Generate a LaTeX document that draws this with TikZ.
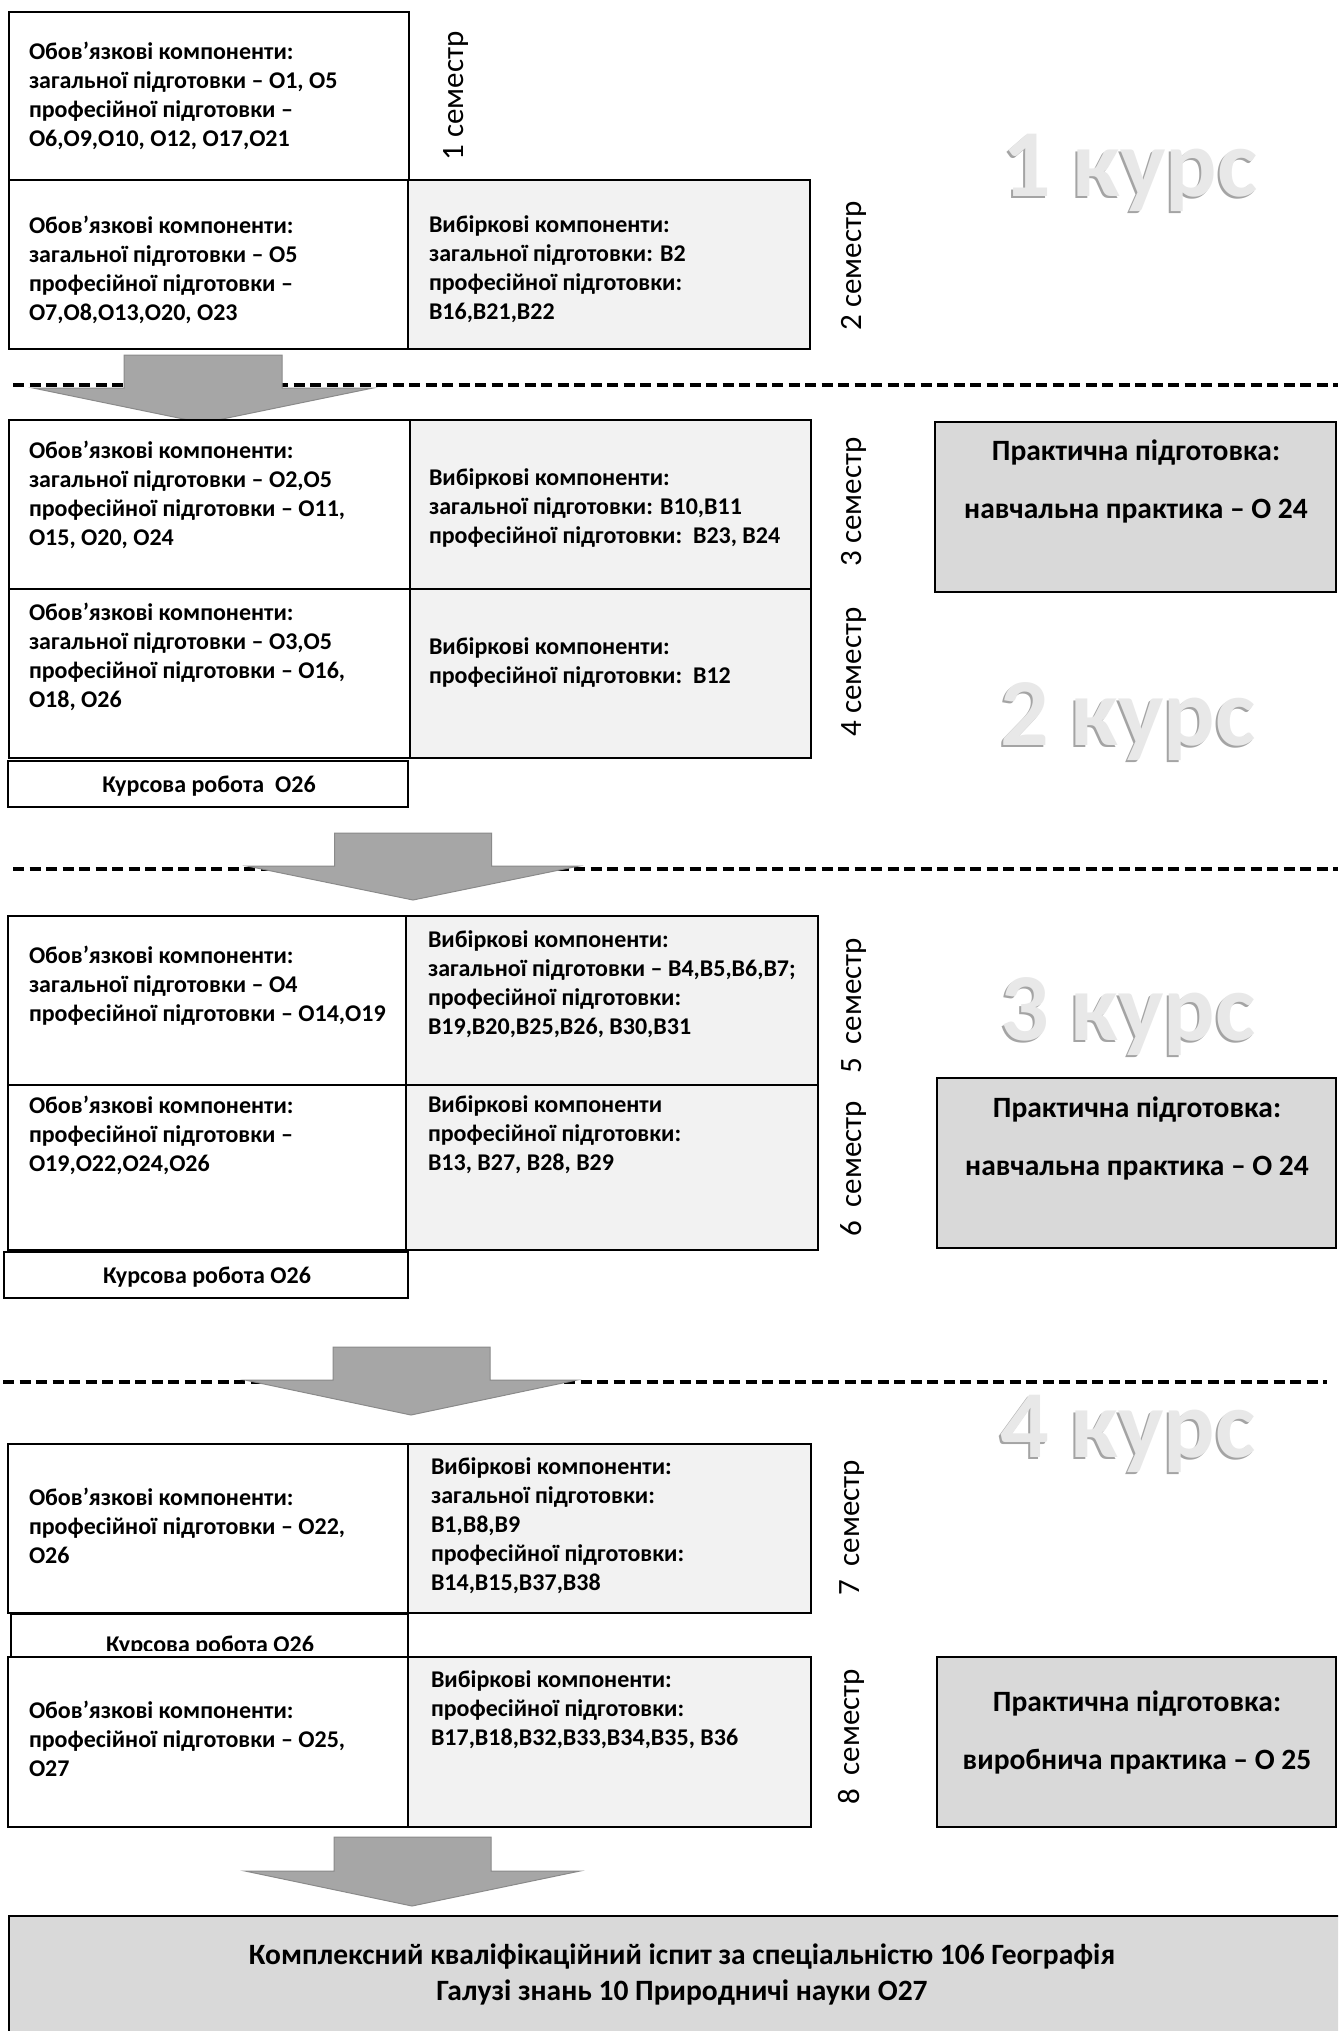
\documentclass[tikz,border=0pt]{standalone}
\usepackage{fontspec}
\setmainfont{Carlito}
\usetikzlibrary{fit}
\definecolor{optfill}{HTML}{F2F2F2}
\definecolor{pracfill}{HTML}{D9D9D9}
\definecolor{arrfill}{HTML}{A6A6A6}
\definecolor{arredge}{HTML}{8A8A8A}
\definecolor{kursfill}{HTML}{E8E8E8}
\definecolor{kursshade}{HTML}{A4A4A4}
\begin{document}
\begin{tikzpicture}[x=1pt,y=-1pt,
  bx/.style={draw=black,line width=1.5pt,inner sep=0pt,outer sep=0pt},
  oblbox/.style={bx,fill=white},
  vibbox/.style={bx,fill=optfill},
  pracbox/.style={bx,fill=pracfill},
  txt/.style={anchor=north west,inner sep=0pt,outer sep=0pt,align=left,yshift=20.3pt,
    font=\fontsize{24}{29}\selectfont\bfseries,execute at begin node=\strut},
  bigtxt/.style={anchor=north,inner sep=0pt,outer sep=0pt,align=center,yshift=25.2pt,
    font=\fontsize{29.5}{36}\selectfont\bfseries,execute at begin node=\strut},
  onel/.style={anchor=base,inner sep=0pt,font=\fontsize{24}{29}\selectfont\bfseries},
  sem/.style={anchor=base,rotate=90,inner sep=0pt,font=\fontsize{31}{31}\selectfont},
  kursshadow/.style={anchor=base,inner sep=0pt,font=\fontsize{96}{96}\selectfont\bfseries,text=kursshade},
  kurslabel/.style={anchor=base,inner sep=0pt,font=\fontsize{96}{96}\selectfont\bfseries,text=kursfill},
  sepline/.style={line width=3.5pt,dash pattern=on 11pt off 5.5pt},
  blockarrow/.style={fill=arrfill,draw=arredge,line width=1pt,line join=miter}
]
\fill[white] (0,0) rectangle (1338,2031);
\clip (0,0) rectangle (1338,2031);

% separators
\draw[sepline] (13,385) -- (1338,385);
\draw[sepline] (13,869) -- (1338,869);
\draw[sepline] (3,1382) -- (1327,1382);

% block arrows
\draw[blockarrow] (124,355) -- (282,355) -- (282,388) -- (373,388) -- (203,423) -- (33,388) -- (124,388) -- cycle;
\draw[blockarrow] (334.5,833) -- (491.5,833) -- (491.5,866) -- (579,866) -- (413,900) -- (247,866) -- (334.5,866) -- cycle;
\draw[blockarrow] (333,1347) -- (490,1347) -- (490,1380) -- (577,1380) -- (411,1415) -- (245,1380) -- (333,1380) -- cycle;
\draw[blockarrow] (334,1837) -- (491,1837) -- (491,1871) -- (580,1871) -- (412,1906) -- (245,1871) -- (334,1871) -- cycle;

% course labels
\node[kursshadow] (k1s) at (1128,198) {1 курс};
\node[kurslabel]  (k1)  at (1130,196) {1 курс};
\node[kursshadow] (k2s) at (1126,747) {2 курс};
\node[kurslabel]  (k2)  at (1128,745) {2 курс};
\node[kursshadow] (k3s) at (1126,1042) {3 курс};
\node[kurslabel]  (k3)  at (1128,1040) {3 курс};
\node[kursshadow] (k4s) at (1126,1459) {4 курс};
\node[kurslabel]  (k4)  at (1128,1457) {4 курс};

% ---------- 1 course ----------
\node[oblbox,fit={(9,12) (409,180)}] (o1box) {};
\node[oblbox,fit={(9,180) (408,349)}] (o2box) {};
\node[vibbox,fit={(408,180) (810,349)}] (v2box) {};
\node[txt] (o1) at (29,62) {Обов’язкові компоненти:\\загальної підготовки – О1, О5\\професійної підготовки –\\О6,О9,О10, О12, О17,О21};
\node[txt] (o2) at (29,236) {Обов’язкові компоненти:\\загальної підготовки – О5\\професійної підготовки –\\О7,О8,О13,О20, О23};
\node[txt] (v2) at (429,236) {Вибіркові компоненти:\\загальної підготовки: В2\\професійної підготовки:\\В16,В21,В22};
\node[sem] (s1) at (463,96) {1 семестр};
\node[sem] (s2) at (861,266) {2 семестр};

% ---------- 2 course ----------
\node[oblbox,fit={(9,420) (410,589)}] (o3box) {};
\node[oblbox,fit={(9,589) (410,758)}] (o4box) {};
\node[vibbox,fit={(410,420) (811,589)}] (v3box) {};
\node[vibbox,fit={(410,589) (811,758)}] (v4box) {};
\node[oblbox,fit={(8,761) (408,807)}] (kr1box) {};
\node[pracbox,fit={(935,422) (1336,592)}] (p1box) {};
\node[txt] (o3) at (29,461) {Обов’язкові компоненти:\\загальної підготовки – О2,О5\\професійної підготовки – О11,\\О15, О20, О24};
\node[txt] (v3) at (429,489) {Вибіркові компоненти:\\загальної підготовки: В10,В11\\професійної підготовки:\ \ В23, В24};
\node[txt] (o4) at (29,623) {Обов’язкові компоненти:\\загальної підготовки – О3,О5\\професійної підготовки – О16,\\О18, О26};
\node[txt] (v4) at (429,658) {Вибіркові компоненти:\\професійної підготовки:\ \ В12};
\node[onel] (kr1) at (209,792) {Курсова робота\ \ О26};
\node[bigtxt] (p1) at (1136,465) {Практична підготовка:\\[22pt]навчальна практика – О 24};
\node[sem] (s3) at (861,502) {3 семестр};
\node[sem] (s4) at (861,672) {4 семестр};

% ---------- 3 course ----------
\node[oblbox,fit={(8,916) (406,1085)}] (o5box) {};
\node[oblbox,fit={(8,1085) (406,1250)}] (o6box) {};
\node[vibbox,fit={(406,916) (818,1085)}] (v5box) {};
\node[vibbox,fit={(406,1085) (818,1250)}] (v6box) {};
\node[oblbox,fit={(4,1252) (408,1298)}] (kr2box) {};
\node[pracbox,fit={(937,1078) (1336,1248)}] (p2box) {};
\node[txt] (o5) at (29,966) {Обов’язкові компоненти:\\загальної підготовки – О4\\професійної підготовки – О14,О19};
\node[txt] (v5) at (428,951) {Вибіркові компоненти:\\загальної підготовки – В4,В5,В6,В7;\\професійної підготовки:\\В19,В20,В25,В26, В30,В31};
\node[txt] (o6) at (29,1116) {Обов’язкові компоненти:\\професійної підготовки –\\О19,О22,О24,О26};
\node[txt] (v6) at (428,1116) {Вибіркові компоненти\\професійної підготовки:\\В13, В27, В28, В29};
\node[onel] (kr2) at (207,1283) {Курсова робота О26};
\node[bigtxt] (p2) at (1137,1122) {Практична підготовка:\\[22pt]навчальна практика – О 24};
\node[sem] (s5) at (861,1006) {5\ \ семестр};
\node[sem] (s6) at (861,1169) {6\ \ семестр};

% ---------- 4 course ----------
\node[oblbox,fit={(8,1444) (408,1613)}] (o7box) {};
\node[vibbox,fit={(408,1444) (811,1613)}] (v7box) {};
\node[oblbox,fit={(11,1614) (408,1670)}] (kr3box) {};
\begin{scope}
  \clip (11,1614) rectangle (408,1650);
  \node[onel] (kr3) at (210,1652) {Курсова робота О26};
\end{scope}
\node[oblbox,fit={(8,1657) (408,1827)}] (o8box) {};
\node[vibbox,fit={(408,1657) (811,1827)}] (v8box) {};
\node[pracbox,fit={(937,1657) (1336,1827)}] (p3box) {};
\node[txt] (o7) at (29,1508) {Обов’язкові компоненти:\\професійної підготовки – О22,\\О26};
\node[txt] (v7) at (431,1478) {Вибіркові компоненти:\\загальної підготовки:\\В1,В8,В9\\професійної підготовки:\\В14,В15,В37,В38};
\node[txt] (o8) at (29,1721) {Обов’язкові компоненти:\\професійної підготовки – О25,\\О27};
\node[txt] (v8) at (431,1691) {Вибіркові компоненти:\\професійної підготовки:\\В17,В18,В32,В33,В34,В35, В36};
\node[bigtxt] (p3) at (1137,1716) {Практична підготовка:\\[22pt]виробнича практика – О 25};
\node[sem] (s7) at (859,1528) {7\ \ семестр};
\node[sem] (s8) at (859,1737) {8\ \ семестр};

% ---------- final ----------
\node[pracbox,fit={(9,1916) (1350,2050)}] (finbox) {};
\node[bigtxt] (fin) at (682,1969) {Комплексний кваліфікаційний іспит за спеціальністю 106 Географія\\Галузі знань 10 Природничі науки О27};
\end{tikzpicture}
\end{document}
